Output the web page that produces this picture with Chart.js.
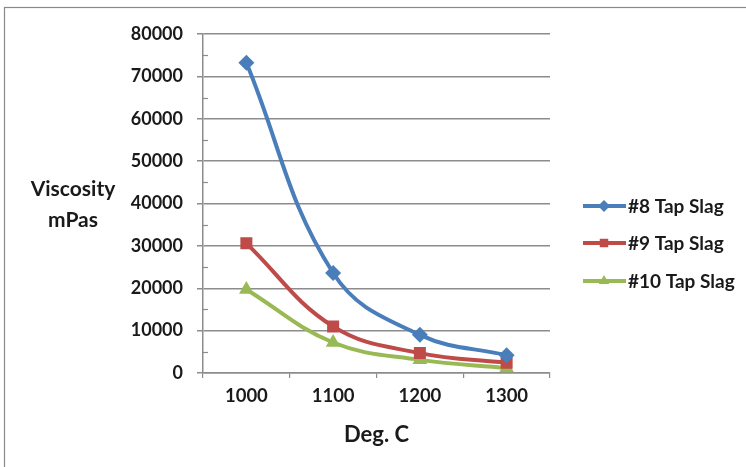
<!DOCTYPE html>
<html><head><meta charset="utf-8">
<script src="https://cdn.jsdelivr.net/npm/chart.js@4/dist/chart.umd.min.js"></script>
<style>html,body{margin:0;padding:0;background:#fff}#wrap{width:746px;height:467px;position:relative}</style>
</head><body><div id="wrap"><canvas id="c" width="746" height="467"></canvas></div>
<script>
const categories = ['1000', '1100', '1200', '1300'];
const tap8 = [73200, 23600, 9000, 4200];
const tap9 = [30600, 11000, 4700, 2400];
const tap10 = [19700, 7200, 3100, 1200];
const seriesNames = ['#8 Tap Slag', '#9 Tap Slag', '#10 Tap Slag'];
const yTicks = [0, 10000, 20000, 30000, 40000, 50000, 60000, 70000, 80000];
const yTitle = ['Viscosity', 'mPas'];
const xTitle = 'Deg. C';

const FONT = 'Lato, "Open Sans", sans-serif';
const TXT = '#1a1a1a';
const GRID = '#8c8c8c';

const colors = ['#4a7ebb', '#be4b48', '#98b954'];
const styles = ['rectRot', 'rect', 'triangle'];
const radii = [8, 8.5, 8.5];
const vals = [tap8, tap9, tap10];

const frame = {
  id: 'frame',
  beforeDraw(chart) {
    const ctx = chart.ctx;
    ctx.save();
    ctx.fillStyle = '#fff';
    ctx.fillRect(0, 0, chart.width, chart.height);
    ctx.strokeStyle = '#8a8a8a';
    ctx.lineWidth = 1.2;
    ctx.strokeRect(4.5, 7.5, 760, 480);
    ctx.restore();
  }
};

const extras = {
  id: 'extras',
  afterDraw(chart) {
    const ctx = chart.ctx;
    const y = chart.scales.y;
    const left = chart.chartArea.left;
    ctx.save();
    ctx.strokeStyle = GRID;
    ctx.lineWidth = 1.2;
    for (let i = 0; i < yTicks.length - 1; i++) {
      const v = (yTicks[i] + yTicks[i + 1]) / 2;
      const py = Math.round(y.getPixelForValue(v)) + 0.5;
      ctx.beginPath(); ctx.moveTo(left, py); ctx.lineTo(left + 5, py); ctx.stroke();
    }
    ctx.fillStyle = TXT;
    ctx.font = 'bold 21px ' + FONT;
    ctx.textAlign = 'center';
    ctx.textBaseline = 'middle';
    ctx.fillText(yTitle[0], 73, 189);
    ctx.fillText(yTitle[1], 73, 220);
    const rows = [206, 243, 281];
    chart.data.datasets.forEach((ds, i) => {
      const ly = rows[i];
      ctx.strokeStyle = ds.borderColor;
      ctx.lineWidth = 4;
      ctx.beginPath(); ctx.moveTo(583, ly); ctx.lineTo(626, ly); ctx.stroke();
      ctx.fillStyle = ds.borderColor;
      Chart.helpers.drawPoint(ctx, {pointStyle: ds.pointStyle, radius: 6, rotation: 0, borderWidth: 0}, 604, ly);
      ctx.fillStyle = TXT;
      ctx.font = 'bold 19px ' + FONT;
      ctx.textAlign = 'left';
      ctx.textBaseline = 'middle';
      ctx.fillText(ds.label, 628, ly + 1);
    });
    ctx.restore();
  }
};

new Chart(document.getElementById('c'), {
  type: 'line',
  data: {
    labels: categories,
    datasets: seriesNames.map((n, i) => ({
      label: n,
      data: vals[i],
      borderColor: colors[i],
      backgroundColor: colors[i],
      pointBackgroundColor: colors[i],
      pointBorderColor: colors[i],
      pointStyle: styles[i],
      pointRadius: radii[i],
      pointBorderWidth: 0,
      borderWidth: 4,
      tension: 0.4,
      fill: false
    }))
  },
  options: {
    responsive: false,
    animation: false,
    layout: { padding: { left: 0, right: 196, top: 34, bottom: 0 } },
    plugins: { legend: { display: false }, tooltip: { enabled: false } },
    scales: {
      x: {
        offset: true,
        grid: { display: true, drawOnChartArea: false, offset: true, tickLength: 5, color: GRID, lineWidth: 1.2 },
        border: { color: GRID, width: 1.5 },
        ticks: { color: TXT, font: { family: FONT, size: 18.5, weight: 'bold' }, padding: 7, maxRotation: 0 },
        title: { display: true, text: xTitle, color: TXT, font: { family: FONT, size: 22, weight: 'bold' }, padding: { top: 0, bottom: 19 } },
        afterFit(s) { s.height = 94; }
      },
      y: {
        min: 0, max: 80000,
        afterBuildTicks(s) { s.ticks = yTicks.map(v => ({ value: v })); },
        grid: { color: GRID, lineWidth: 1.5, tickLength: 6 },
        border: { color: GRID, width: 1.5 },
        ticks: { color: TXT, font: { family: FONT, size: 18, weight: 'bold' }, padding: 14, callback: v => String(v) },
        afterFit(s) { s.width = 203; }
      }
    }
  },
  plugins: [frame, extras]
});
</script></body></html>
